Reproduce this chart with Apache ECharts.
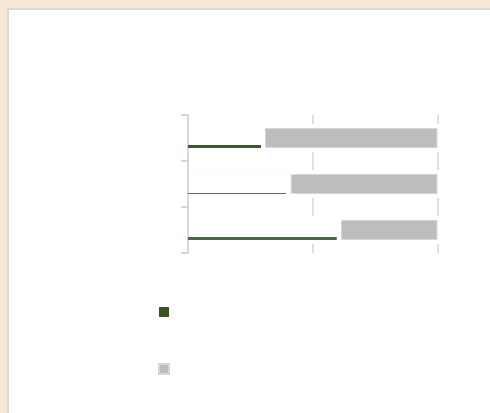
<!DOCTYPE html>
<html>
<head>
<meta charset="utf-8">
<script src="https://cdn.jsdelivr.net/npm/echarts@6/dist/echarts.min.js"></script>
<style>
    html, body { margin: 0; padding: 0; background: #f9e9d4; overflow: hidden; }
    #chart {
        position: absolute; left: 7px; top: 8px; width: 490px; height: 413px;
        background: #fff; border-left: 2px solid #d9d9d9; border-top: 2px solid #d9d9d9;
    }
</style>
</head>
<body>
<div id="chart"></div>
<script>
// 数据
var categories = ['A', 'B', 'C'];
var actualValues = [29.2, 39.2, 59.5];
var remainStart = [30.8, 41.1, 61.2];
var remainValues = [69.0, 58.7, 38.6];
var legendNames = ['Actual', 'Remaining'];

var greenFill = function (top, line, lineColor) {
    return new echarts.graphic.LinearGradient(0, 0, 0, 1, [
        { offset: 0, color: top },
        { offset: 0.05, color: 'rgba(255,255,255,0)' },
        { offset: line, color: 'rgba(255,255,255,0)' },
        { offset: line, color: lineColor },
        { offset: 1, color: lineColor }
    ]);
};

var actualData = actualValues.map(function (v, i) {
    var style = i == 1
        ? greenFill('#e2e4dc', 0.95, '#5b7a42')
        : greenFill('rgba(255,255,255,0)', 0.87, i == 0 ? '#3d5a22' : '#4d6b34');
    return { value: v, itemStyle: { color: style } };
});

var option = {
    animation: false,
    grid: { left: 179, top: 105, width: 250, height: 138 },
    legend: {
        orient: 'vertical',
        left: 144,
        top: 291,
        itemWidth: 10,
        itemHeight: 10,
        itemGap: 45,
        icon: 'rect',
        textStyle: { color: '#fff', fontSize: 12 },
        data: legendNames
    },
    xAxis: {
        type: 'value',
        min: 0,
        max: 100,
        interval: 50,
        axisLine: { show: false },
        axisTick: { show: false },
        axisLabel: { show: false },
        splitLine: {
            lineStyle: { color: '#e0e0e0', width: 2, type: [18, 28], dashOffset: 9 }
        }
    },
    yAxis: {
        type: 'category',
        inverse: true,
        data: categories,
        axisLine: { show: true, lineStyle: { color: '#d9d9d9', width: 2 } },
        axisTick: { show: true, inside: false, length: 7, lineStyle: { color: '#d9d9d9', width: 2 } },
        axisLabel: { show: false }
    },
    series: [
        {
            name: legendNames[0],
            type: 'bar',
            barWidth: 20,
            barGap: '-100%',
            itemStyle: { color: '#3b5520' },
            data: actualData
        },
        {
            name: 'base',
            type: 'bar',
            stack: 'remain',
            barWidth: 20,
            itemStyle: { color: 'rgba(0,0,0,0)' },
            data: remainStart
        },
        {
            name: legendNames[1],
            type: 'bar',
            stack: 'remain',
            barWidth: 20,
            itemStyle: { color: '#bdbdbd', borderColor: '#d6d6d6', borderWidth: 1 },
            data: remainValues
        }
    ]
};

var myChart = echarts.init(document.getElementById('chart'));
myChart.setOption(option);
</script>
</body>
</html>
